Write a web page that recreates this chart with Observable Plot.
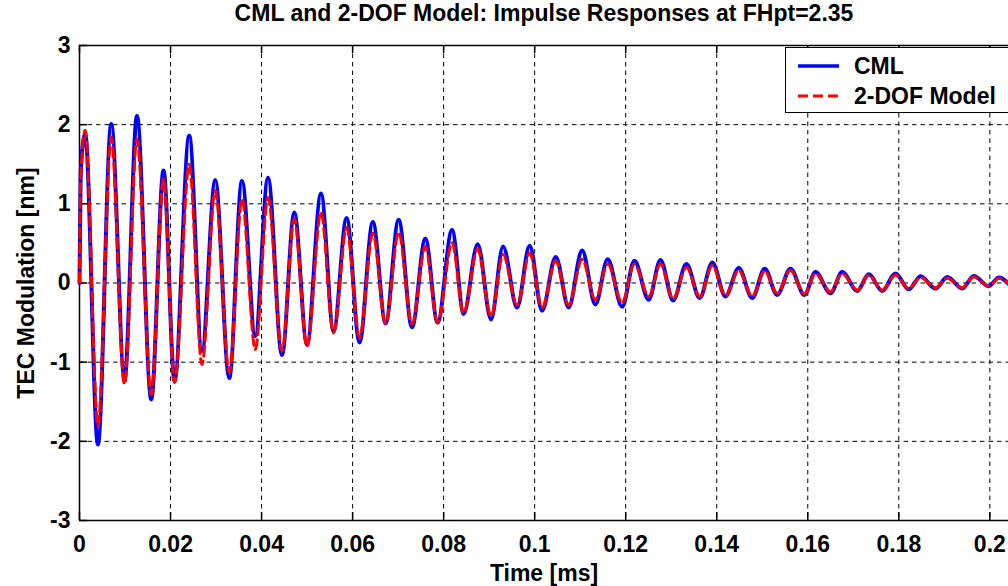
<!DOCTYPE html>
<html>
<head>
<meta charset="utf-8">
<script src="https://cdn.jsdelivr.net/npm/d3@7"></script>
<script src="https://cdn.jsdelivr.net/npm/@observablehq/plot@0.6"></script>
<style>
  html, body { margin: 0; padding: 0; background: #fff; overflow: hidden; width: 1008px; height: 586px; }
  #wrap { position: relative; width: 1008px; height: 586px; overflow: hidden; }
  #title { position: absolute; left: 0; top: 0; width: 1088px; height: 36px; line-height: 36px; text-align: center;
           font: bold 23px "Liberation Sans", Arial, sans-serif; color: #000; white-space: nowrap; }
  #chart { position: absolute; left: 0; top: 36px; }
  #legend { position: absolute; left: 785px; top: 47px; width: 260px; height: 64px; border: 1.5px solid #000;
            background: #fff; font: bold 23px "Liberation Sans", Arial, sans-serif; color: #000; }
  .row { position: absolute; left: 0; height: 30px; line-height: 30px; }
  .row svg { position: absolute; left: 11px; top: 0; }
  .row span { position: absolute; left: 68px; top: 0; white-space: nowrap; }
</style>
</head>
<body>
<div id="wrap">
  <div id="title">CML and 2-DOF Model: Impulse Responses at FHpt=2.35</div>
  <div id="chart"></div>
  <div id="legend">
    <div class="row" style="top:3px"><svg width="44" height="30"><line x1="1" x2="42" y1="15" y2="15" stroke="#0000ff" stroke-width="3.5"/></svg><span>CML</span></div>
    <div class="row" style="top:33px"><svg width="44" height="30"><line x1="1" x2="42" y1="15" y2="15" stroke="#ff0000" stroke-width="3" stroke-dasharray="10,5"/></svg><span>2-DOF Model</span></div>
  </div>
</div>
<script>
// Time [ms] of successive extrema
const times = [0, 0.00026, 0.00125, 0.00404, 0.00697, 0.00989, 0.01262, 0.01576, 0.01846, 0.02088,
  0.02411, 0.02690, 0.02982, 0.03290, 0.03569, 0.03862, 0.04141, 0.04448, 0.04719, 0.04998,
  0.05305, 0.05582, 0.05868, 0.06152, 0.06444, 0.06725, 0.07011, 0.07305, 0.07598, 0.07868,
  0.08185, 0.08440, 0.08747, 0.09042, 0.09305, 0.09613, 0.09890, 0.10163, 0.10462, 0.10747,
  0.11042, 0.11334, 0.11604, 0.11921, 0.12191, 0.12505, 0.12763, 0.13042, 0.13334, 0.13626,
  0.13903, 0.14191, 0.14484, 0.14778, 0.15055, 0.15327, 0.15620, 0.15927, 0.16169, 0.16499,
  0.16756, 0.17086, 0.17341, 0.17635, 0.17927, 0.18220, 0.18477, 0.18807, 0.19064, 0.19393,
  0.19648, 0.19978, 0.20198, 0.20477];

// CML response [nm]
const cml = [0, 1.40, 1.89, -2.04, 2.01, -1.22, 2.11, -1.47, 1.42, -1.24,
  1.86, -0.86, 1.30, -1.20, 1.29, -0.67, 1.33, -0.91, 0.89, -0.78,
  1.13, -0.61, 0.82, -0.75, 0.77, -0.51, 0.80, -0.56, 0.56, -0.50,
  0.67, -0.39, 0.49, -0.46, 0.46, -0.31, 0.47, -0.35, 0.33, -0.31,
  0.41, -0.27, 0.30, -0.30, 0.28, -0.21, 0.29, -0.22, 0.24, -0.19,
  0.26, -0.17, 0.19, -0.19, 0.18, -0.15, 0.18, -0.15, 0.14, -0.13,
  0.14, -0.10, 0.11, -0.10, 0.12, -0.08, 0.085, -0.07, 0.075, -0.07,
  0.09, -0.04, 0.07, -0.05];

// 2-DOF Model response [nm]
const dof = [0, 1.30, 1.93, -1.81, 1.84, -1.28, 1.82, -1.41, 1.32, -1.26,
  1.50, -1.03, 1.17, -1.13, 1.06, -0.84, 1.08, -0.86, 0.81, -0.80,
  0.89, -0.63, 0.70, -0.69, 0.63, -0.51, 0.64, -0.52, 0.46, -0.50,
  0.51, -0.38, 0.43, -0.42, 0.36, -0.28, 0.38, -0.31, 0.28, -0.28,
  0.30, -0.21, 0.24, -0.25, 0.24, -0.17, 0.24, -0.20, 0.20, -0.17,
  0.22, -0.16, 0.16, -0.17, 0.15, -0.13, 0.16, -0.14, 0.12, -0.11,
  0.12, -0.09, 0.10, -0.09, 0.10, -0.07, 0.07, -0.06, 0.06, -0.06,
  0.08, -0.04, 0.06, -0.04];

const xTicks = [0, 0.02, 0.04, 0.06, 0.08, 0.1, 0.12, 0.14, 0.16, 0.18, 0.2];
const yTicks = [-3, -2, -1, 0, 1, 2, 3];
const xGrid = [0.02, 0.04, 0.06, 0.08, 0.1, 0.12, 0.14, 0.16, 0.18, 0.2];
const yGrid = [-2, -1, 0, 1, 2];
const xDomain = [0, 0.2041];
const yDomain = [-3, 3];

const W = 1008, H = 550, mT = 9, mB = 66, mL = 79, mR = 0;
const plotH = H - mT - mB, plotW = W - mL - mR;

const cmlRows = times.map((t, i) => ({t, v: cml[i]}));
const dofRows = times.map((t, i) => ({t, v: dof[i]}));

const chart = Plot.plot({
  width: W, height: H,
  marginTop: mT, marginBottom: mB, marginLeft: mL, marginRight: mR,
  style: {fontFamily: "'Liberation Sans', Arial, sans-serif", fontSize: "23px", fontWeight: "bold", color: "#000", background: "#fff", overflow: "visible"},
  x: {domain: xDomain},
  y: {domain: yDomain},
  marks: [
    Plot.ruleX(xGrid, {x: d => d, stroke: "#000", strokeWidth: 1, strokeDasharray: "4.5,4"}),
    Plot.ruleY(yGrid, {y: d => d, stroke: "#000", strokeWidth: 1, strokeDasharray: "4.5,4"}),
    Plot.ruleX(xTicks, {x: d => d, insetTop: plotH - 8, stroke: "#000", strokeWidth: 1.5}),
    Plot.ruleX(xTicks, {x: d => d, insetBottom: plotH - 8, stroke: "#000", strokeWidth: 1.5}),
    Plot.ruleY(yTicks, {y: d => d, insetRight: plotW - 8, stroke: "#000", strokeWidth: 1.5}),
    Plot.ruleY([yDomain[0]], {y: d => d, stroke: "#000", strokeWidth: 1.5}),
    Plot.ruleY([yDomain[1]], {y: d => d, stroke: "#000", strokeWidth: 1.5}),
    Plot.ruleX([xDomain[0]], {x: d => d, stroke: "#000", strokeWidth: 1.5}),
    Plot.line(cmlRows, {x: "t", y: "v", stroke: "#0000ff", strokeWidth: 4, curve: "monotone-x"}),
    Plot.line(dofRows, {x: "t", y: "v", stroke: "#ff0000", strokeWidth: 3, strokeDasharray: "10,5", curve: "monotone-x"}),
    Plot.axisX({ticks: xTicks, tickSize: 0, tickPadding: 15, tickFormat: d => String(d),
      label: "Time [ms]", labelAnchor: "center", labelOffset: 60, labelArrow: "none", fill: "#000"}),
    Plot.axisY({ticks: yTicks, tickSize: 0, tickPadding: 9, tickFormat: d => String(d),
      label: "TEC Modulation [nm]", labelAnchor: "center", labelOffset: 62, labelArrow: "none", fill: "#000"})
  ]
});
document.getElementById("chart").appendChild(chart);
</script>
</body>
</html>
